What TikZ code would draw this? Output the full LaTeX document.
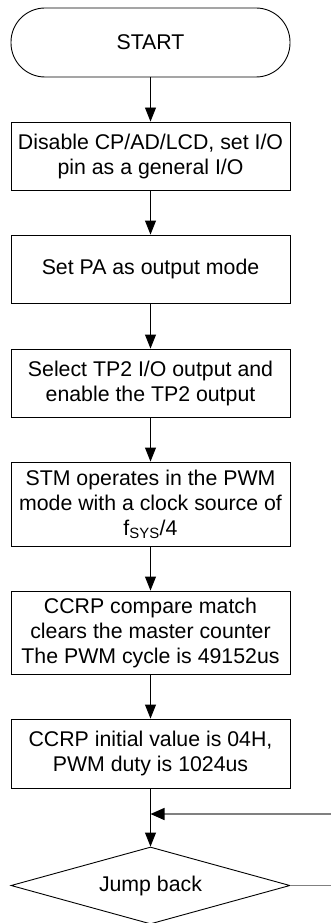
\documentclass[tikz,border=0pt]{standalone}
\usepackage{fontspec}
\setmainfont{Liberation Sans}
\usetikzlibrary{arrows.meta,shapes.geometric}

\begin{document}
\begin{tikzpicture}[x=1pt,y=-1pt,
  every node/.style={font=\fontsize{21.3}{25}\selectfont, align=center, inner sep=0pt},
  procbox/.style={draw, line width=0.9pt, minimum width=279pt},
  termbox/.style={procbox, rounded corners=34pt},
  decision/.style={draw, line width=0.9pt, shape=diamond, aspect=3.62,
                   minimum width=279pt, minimum height=77pt},
  flow/.style={line width=0.9pt, -{Triangle[length=14pt,width=11pt]}},
  plainline/.style={line width=0.9pt},
  loopback/.style={draw=black!50, line width=1.5pt,
                   -{Triangle[length=14pt,width=12pt,color=black]}}]

\useasboundingbox (0,0) rectangle (330,923);

% flow steps
\node[termbox, minimum height=69pt] (start) at (150.5,42.5) {START};
\node[procbox, minimum height=68pt] (b1) at (150.5,156)
  {Disable CP/AD/LCD, set I/O\\pin as a general I/O};
\node[procbox, minimum height=68pt] (b2) at (150.5,269) {Set PA as output mode};
\node[procbox, minimum height=68pt] (b3) at (150.5,383)
  {Select TP2 I/O output and\\enable the TP2 output};
\node[procbox, minimum height=84pt] (b4) at (150.5,504)
  {STM operates in the PWM\\mode with a clock source of\\f\textsubscript{SYS}/4};
\node[procbox, minimum height=83pt] (b5) at (150.5,632.5)
  {CCRP compare match\\clears the master counter\\The PWM cycle is 49152us};
\node[procbox, minimum height=69pt] (b6) at (150.5,753.5)
  {CCRP initial value is 04H,\\PWM duty is 1024us};
\coordinate (join) at (150.5,814);
\node[decision] (jb) at (150.5,885.5) {Jump back};

% loop return route
\coordinate (rbot) at (332,885.5);
\coordinate (rtop) at (332,814);

% connectors
\draw[flow] (start) -- (b1);
\draw[flow] (b1) -- (b2);
\draw[flow] (b2) -- (b3);
\draw[flow] (b3) -- (b4);
\draw[flow] (b4) -- (b5);
\draw[flow] (b5) -- (b6);
\draw[plainline] (b6) -- (join);
\draw[flow] (join) -- (jb);
\draw[loopback] (jb.east) -- (rbot) -- (rtop) -- (join);
\end{tikzpicture}
\end{document}
